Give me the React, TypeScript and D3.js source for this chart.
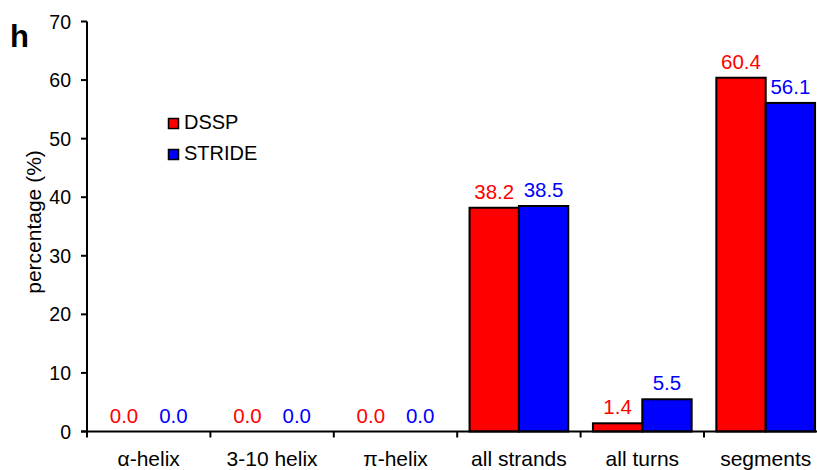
import React, { useEffect, useRef } from "react";
import * as d3 from "d3";

const categories = ["α-helix", "3-10 helix", "π-helix", "all strands", "all turns", "segments"];
const seriesNames = ["DSSP", "STRIDE"];
const dsspValues = [0.0, 0.0, 0.0, 38.2, 1.4, 60.4];
const strideValues = [0.0, 0.0, 0.0, 38.5, 5.5, 56.1];
const seriesColors = ["#ff0000", "#0000ff"];
const yTicks = [0, 10, 20, 30, 40, 50, 60, 70];

const FONT = "'Liberation Sans', Arial, sans-serif";

const App: React.FC = () => {
  const svgRef = useRef<SVGSVGElement | null>(null);

  useEffect(() => {
    const width = 817;
    const height = 470;
    const left = 87;
    const step = 123.4;

    const svg = d3.select(svgRef.current);
    svg.selectAll("*").remove();
    svg.attr("width", width).attr("height", height);

    const x = d3.scaleBand<string>()
      .domain(categories)
      .range([left, left + step * categories.length]);

    const xInner = d3.scaleBand<string>()
      .domain(seriesNames)
      .range([0, x.bandwidth()])
      .paddingInner(0)
      .paddingOuter(0.25);

    const y = d3.scaleLinear().domain([0, 70]).range([431.5, 21.5]);

    const values = [dsspValues, strideValues];

    // Bars
    seriesNames.forEach((name, si) => {
      svg.append("g")
        .selectAll("rect")
        .data(categories)
        .join("rect")
        .attr("x", c => (x(c) ?? 0) + (xInner(name) ?? 0))
        .attr("y", (c, i) => y(values[si][i]))
        .attr("width", xInner.bandwidth())
        .attr("height", (c, i) => y(0) - y(values[si][i]))
        .attr("fill", seriesColors[si])
        .attr("stroke", "#000")
        .attr("stroke-width", 2)
        .attr("visibility", (c, i) => (values[si][i] > 0 ? "visible" : "hidden"));

      // Value labels
      svg.append("g")
        .selectAll("text")
        .data(categories)
        .join("text")
        .attr("x", c => (x(c) ?? 0) + (xInner(name) ?? 0) + xInner.bandwidth() / 2)
        .attr("y", (c, i) => y(values[si][i]) - 9)
        .attr("text-anchor", "middle")
        .attr("fill", seriesColors[si])
        .style("font-family", FONT)
        .style("font-size", "20.5px")
        .text((c, i) => values[si][i].toFixed(1));
    });

    // Y axis
    const yAxis = svg.append("g");
    yAxis.append("line")
      .attr("x1", left).attr("x2", left)
      .attr("y1", y(70)).attr("y2", y(0))
      .attr("stroke", "#000").attr("stroke-width", 2);
    yTicks.forEach(t => {
      yAxis.append("line")
        .attr("x1", left - 6).attr("x2", left)
        .attr("y1", y(t)).attr("y2", y(t))
        .attr("stroke", "#000").attr("stroke-width", 2);
      yAxis.append("text")
        .attr("x", 71)
        .attr("y", y(t) + 7)
        .attr("text-anchor", "end")
        .style("font-family", FONT)
        .style("font-size", "19.5px")
        .text(t);
    });

    // X axis
    const xAxis = svg.append("g");
    xAxis.append("line")
      .attr("x1", left - 6).attr("x2", left + step * categories.length)
      .attr("y1", y(0)).attr("y2", y(0))
      .attr("stroke", "#000").attr("stroke-width", 2);
    categories.forEach(c => {
      const x0 = x(c) ?? 0;
      xAxis.append("line")
        .attr("x1", x0).attr("x2", x0)
        .attr("y1", y(0)).attr("y2", y(0) + 6)
        .attr("stroke", "#000").attr("stroke-width", 2);
      xAxis.append("text")
        .attr("x", x0 + x.bandwidth() / 2)
        .attr("y", 466)
        .attr("text-anchor", "middle")
        .style("font-family", FONT)
        .style("font-size", "21px")
        .text(c);
    });

    // Y axis title
    svg.append("text")
      .attr("transform", `translate(41, 222) rotate(-90)`)
      .attr("text-anchor", "middle")
      .style("font-family", FONT)
      .style("font-size", "21px")
      .text("percentage (%)");

    // Panel letter
    svg.append("text")
      .attr("x", 10)
      .attr("y", 47)
      .style("font-family", FONT)
      .style("font-size", "31px")
      .style("font-weight", "bold")
      .text("h");

    // Legend
    const legend = svg.append("g").attr("transform", "translate(168, 118)");
    seriesNames.forEach((name, i) => {
      legend.append("rect")
        .attr("x", 0.5)
        .attr("y", i * 31 + 0.5)
        .attr("width", 10)
        .attr("height", 10)
        .attr("fill", seriesColors[i])
        .attr("stroke", "#000")
        .attr("stroke-width", 1.5);
      legend.append("text")
        .attr("x", 16)
        .attr("y", i * 31 + 11)
        .style("font-family", FONT)
        .style("font-size", "20px")
        .text(name);
    });
  }, []);

  return (
    <svg
      ref={svgRef}
      style={{ position: "absolute", left: 0, top: 0, display: "block", background: "#fff" }}
    />
  );
};

export default App;
